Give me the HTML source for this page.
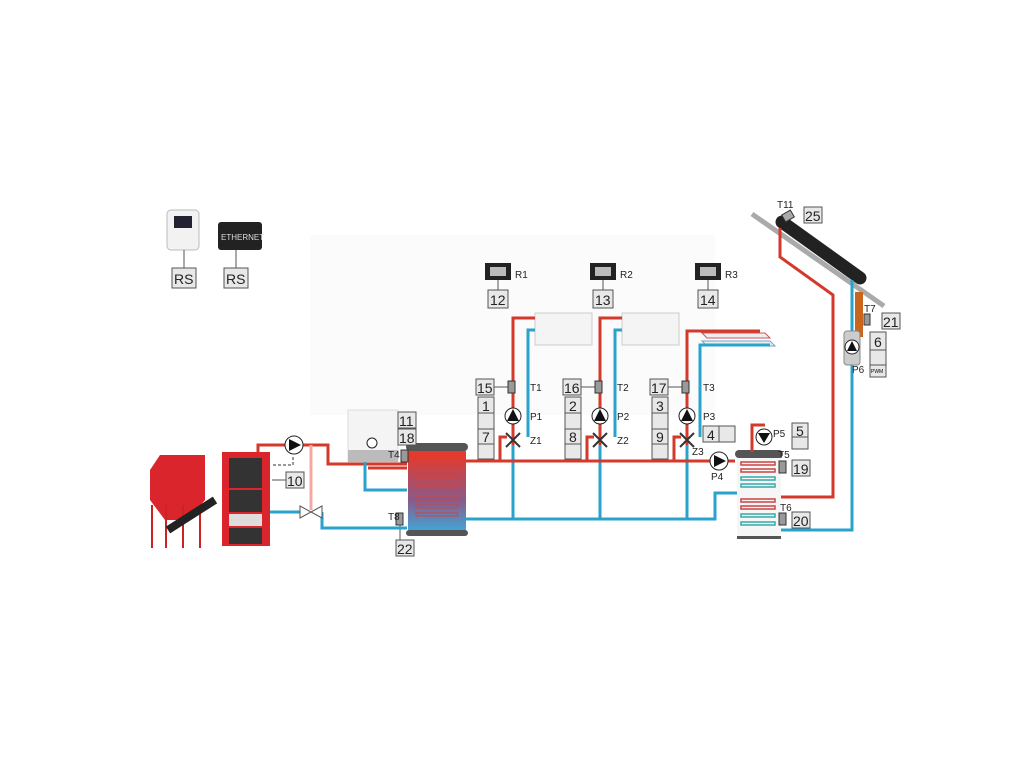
<!DOCTYPE html>
<html><head><meta charset="utf-8"><style>
html,body{margin:0;padding:0;background:#fff;}
svg{display:block;font-family:"Liberation Sans",sans-serif;}
.b{fill:#e8e8e8;stroke:#555;stroke-width:1;}
.t{font-size:14px;fill:#222;}
.s{font-size:10px;fill:#222;}
.r{stroke:#d33a2c;stroke-width:3;fill:none;}
.bl{stroke:#2aa3cc;stroke-width:3;fill:none;}
.k{stroke:#555;stroke-width:1;fill:none;}
</style></head><body>
<svg width="1024" height="768" viewBox="0 0 1024 768">
<rect x="310" y="235" width="405" height="180" fill="#fbfbfb"/>
<!-- controllers -->
<rect x="167" y="210" width="32" height="40" rx="4" fill="#f2f2f2" stroke="#bbb"/>
<rect x="174" y="216" width="18" height="12" fill="#223"/>
<line x1="184" y1="250" x2="184" y2="268" class="k"/>
<rect x="172" y="268" width="24" height="20" class="b"/><text x="174" y="284" class="t">RS</text>
<rect x="218" y="222" width="44" height="28" rx="3" fill="#222"/>
<text x="221" y="240" font-size="8" fill="#ddd">ETHERNET</text>
<line x1="236" y1="250" x2="236" y2="268" class="k"/>
<rect x="224" y="268" width="24" height="20" class="b"/><text x="226" y="284" class="t">RS</text>
<g>
<rect x="485" y="263" width="26" height="17" fill="#222"/><rect x="490" y="267" width="16" height="9" fill="#bbb"/>
<text x="515" y="278" class="s">R1</text><line x1="498" y1="280" x2="498" y2="290" class="k"/>
<rect x="488" y="290" width="20" height="18" class="b"/><text x="490" y="305" class="t">12</text>
<rect x="590" y="263" width="26" height="17" fill="#222"/><rect x="595" y="267" width="16" height="9" fill="#bbb"/>
<text x="620" y="278" class="s">R2</text><line x1="603" y1="280" x2="603" y2="290" class="k"/>
<rect x="593" y="290" width="20" height="18" class="b"/><text x="595" y="305" class="t">13</text>
<rect x="695" y="263" width="26" height="17" fill="#222"/><rect x="700" y="267" width="16" height="9" fill="#bbb"/>
<text x="725" y="278" class="s">R3</text><line x1="708" y1="280" x2="708" y2="290" class="k"/>
<rect x="698" y="290" width="20" height="18" class="b"/><text x="700" y="305" class="t">14</text>
</g>
<rect x="535" y="313" width="57" height="32" fill="#f4f4f4" stroke="#ccc"/>
<rect x="622" y="313" width="57" height="32" fill="#f4f4f4" stroke="#ccc"/>
<polygon points="702,333 765,333 770,338 707,338" fill="#eee" stroke="#c55"/>
<polygon points="702,341 770,341 775,346 707,346" fill="#eee" stroke="#6ac"/>
<path class="r" d="M513,460 V318 H535 M600,460 V318 H622 M687,460 V331 H760"/>
<path class="bl" d="M528,437 V330 H535 M615,437 V330 H622 M700,437 V345 H770"/>
<path class="bl" d="M513,445 V519 M600,445 V519 M687,445 V519"/>
<path class="r" d="M500,460 V437 H507 M587,460 V437 H594 M674,460 V437 H681"/>
<path class="r" d="M466,461 H735"/>
<path class="bl" d="M466,519 H715 V493 H740"/>
<g>
<rect x="476" y="379" width="18" height="16" class="b"/><text x="477" y="393" class="t">15</text>
<line x1="494" y1="387" x2="508" y2="387" class="k"/><rect x="508" y="381" width="7" height="12" fill="#999" stroke="#333"/><text x="530" y="391" class="s">T1</text>
<rect x="478" y="397" width="16" height="32" class="b"/><line x1="478" y1="413" x2="494" y2="413" class="k"/><text x="482" y="411" class="t">1</text>
<circle cx="513" cy="416" r="8" fill="#fff" stroke="#222"/><polygon points="507,421 513,409 519,421" fill="#111"/><text x="530" y="420" class="s">P1</text>
<rect x="478" y="429" width="16" height="30" class="b"/><line x1="478" y1="444" x2="494" y2="444" class="k"/><text x="482" y="442" class="t">7</text>
<path d="M506,433 L520,447 M506,447 L520,433" stroke="#333" stroke-width="2"/><text x="530" y="444" class="s">Z1</text>
<rect x="563" y="379" width="18" height="16" class="b"/><text x="564" y="393" class="t">16</text>
<line x1="581" y1="387" x2="595" y2="387" class="k"/><rect x="595" y="381" width="7" height="12" fill="#999" stroke="#333"/><text x="617" y="391" class="s">T2</text>
<rect x="565" y="397" width="16" height="32" class="b"/><line x1="565" y1="413" x2="581" y2="413" class="k"/><text x="569" y="411" class="t">2</text>
<circle cx="600" cy="416" r="8" fill="#fff" stroke="#222"/><polygon points="594,421 600,409 606,421" fill="#111"/><text x="617" y="420" class="s">P2</text>
<rect x="565" y="429" width="16" height="30" class="b"/><line x1="565" y1="444" x2="581" y2="444" class="k"/><text x="569" y="442" class="t">8</text>
<path d="M593,433 L607,447 M593,447 L607,433" stroke="#333" stroke-width="2"/><text x="617" y="444" class="s">Z2</text>
<rect x="650" y="379" width="18" height="16" class="b"/><text x="651" y="393" class="t">17</text>
<line x1="668" y1="387" x2="682" y2="387" class="k"/><rect x="682" y="381" width="7" height="12" fill="#999" stroke="#333"/><text x="703" y="391" class="s">T3</text>
<rect x="652" y="397" width="16" height="32" class="b"/><line x1="652" y1="413" x2="668" y2="413" class="k"/><text x="656" y="411" class="t">3</text>
<circle cx="687" cy="416" r="8" fill="#fff" stroke="#222"/><polygon points="681,421 687,409 693,421" fill="#111"/><text x="703" y="420" class="s">P3</text>
<rect x="652" y="429" width="16" height="30" class="b"/><line x1="652" y1="444" x2="668" y2="444" class="k"/><text x="656" y="442" class="t">9</text>
<path d="M680,433 L694,447 M680,447 L694,433" stroke="#333" stroke-width="2"/><text x="692" y="455" class="s">Z3</text>
<rect x="703" y="426" width="32" height="16" class="b"/><line x1="719" y1="426" x2="719" y2="442" class="k"/><text x="707" y="440" class="t">4</text>
<circle cx="719" cy="461" r="9" fill="#fff" stroke="#222"/><polygon points="714,455 726,461 714,467" fill="#111"/><text x="711" y="480" class="s">P4</text>
</g>
<defs><linearGradient id="tg" x1="0" y1="0" x2="0" y2="1"><stop offset="0.1" stop-color="#e33a2c"/><stop offset="0.6" stop-color="#8a5a8a"/><stop offset="1" stop-color="#36b0e0"/></linearGradient></defs>
<rect x="408" y="447" width="58" height="88" rx="6" fill="url(#tg)"/>
<rect x="406" y="443" width="62" height="8" rx="4" fill="#555"/>
<rect x="406" y="530" width="62" height="6" rx="3" fill="#555"/>
<g stroke="#c44" fill="none"><rect x="416" y="468" width="42" height="3"/><rect x="416" y="476" width="42" height="3"/><rect x="416" y="484" width="42" height="3"/><rect x="416" y="497" width="42" height="3"/><rect x="416" y="505" width="42" height="3"/><rect x="416" y="513" width="42" height="3"/></g>
<rect x="348" y="410" width="50" height="52" fill="#f4f4f4" stroke="#ddd"/>
<rect x="348" y="450" width="50" height="12" fill="#bbb"/>
<circle cx="372" cy="443" r="5" fill="#fff" stroke="#222"/>
<rect x="398" y="412" width="18" height="16" class="b"/><text x="399" y="426" class="t">11</text>
<rect x="398" y="429" width="18" height="16" class="b"/><text x="399" y="443" class="t">18</text>
<rect x="401" y="450" width="7" height="12" fill="#999" stroke="#333"/><text x="388" y="458" class="s">T4</text>
<rect x="396" y="513" width="7" height="12" fill="#999" stroke="#333"/><text x="388" y="520" class="s">T8</text>
<line x1="400" y1="525" x2="400" y2="540" class="k"/>
<rect x="396" y="540" width="18" height="16" class="b"/><text x="397" y="554" class="t">22</text>
<path class="r" d="M258,452 V445 H328 V464 H407"/>
<path class="r" d="M368,468 H407" stroke-width="2"/>
<path class="bl" d="M365,462 V490 H407"/>
<path d="M311,445 V510" stroke="#f3a9a2" stroke-width="3"/>
<path class="bl" d="M270,512 H300 M322,512 V528 H407"/>
<polygon points="300,506 311,512 300,518" fill="#fff" stroke="#555"/><polygon points="322,506 311,512 322,518" fill="#fff" stroke="#555"/>
<circle cx="294" cy="445" r="9" fill="#fff" stroke="#222"/><polygon points="289,439 301,445 289,451" fill="#111"/>
<path d="M273,465 H293 V455" stroke="#333" stroke-dasharray="3,2" fill="none"/>
<polygon points="150,470 160,455 205,455 205,500 188,520 165,520 150,500" fill="#d9252b"/>
<path d="M152,505 V548 M166,505 V548 M183,505 V548 M200,505 V548" stroke="#c22" stroke-width="2"/>
<line x1="168" y1="530" x2="215" y2="500" stroke="#222" stroke-width="8"/>
<rect x="222" y="452" width="48" height="94" fill="#d9252b"/>
<rect x="229" y="458" width="33" height="30" fill="#333"/><rect x="229" y="490" width="33" height="22" fill="#333"/>
<rect x="229" y="514" width="33" height="12" fill="#ddd"/><rect x="229" y="528" width="33" height="16" fill="#333"/>
<line x1="272" y1="480" x2="286" y2="480" class="k"/>
<rect x="286" y="472" width="18" height="16" class="b"/><text x="287" y="486" class="t">10</text>
<rect x="737" y="455" width="44" height="82" fill="#f6f6f6"/>
<rect x="735" y="450" width="48" height="8" rx="4" fill="#555"/>
<rect x="737" y="536" width="44" height="3" fill="#555"/>
<g fill="none" stroke-width="1.5"><g stroke="#c44"><rect x="741" y="462" width="34" height="3"/><rect x="741" y="469" width="34" height="3"/><rect x="741" y="499" width="34" height="3"/><rect x="741" y="506" width="34" height="3"/></g>
<g stroke="#3aa"><rect x="741" y="477" width="34" height="3"/><rect x="741" y="484" width="34" height="3"/><rect x="741" y="514" width="34" height="3"/><rect x="741" y="522" width="34" height="3"/></g></g>
<path class="r" d="M752,452 V425 H765" stroke-width="2"/>
<circle cx="764" cy="437" r="8" fill="#fff" stroke="#222"/><polygon points="758,433 770,433 764,443" fill="#111"/>
<text x="773" y="437" class="s">P5</text>
<rect x="792" y="423" width="16" height="26" class="b"/><line x1="792" y1="437" x2="808" y2="437" class="k"/><text x="796" y="436" class="t">5</text>
<rect x="779" y="461" width="7" height="12" fill="#999" stroke="#333"/><text x="778" y="458" class="s">T5</text>
<rect x="792" y="460" width="18" height="16" class="b"/><text x="793" y="474" class="t">19</text>
<rect x="779" y="513" width="7" height="12" fill="#999" stroke="#333"/><text x="780" y="511" class="s">T6</text>
<rect x="792" y="512" width="18" height="16" class="b"/><text x="793" y="526" class="t">20</text>
<line x1="752" y1="214" x2="884" y2="306" stroke="#aaa" stroke-width="5"/>
<line x1="782" y1="222" x2="860" y2="278" stroke="#222" stroke-width="13" stroke-linecap="round"/>
<rect x="783" y="212" width="10" height="8" fill="#aaa" stroke="#333" transform="rotate(-30 788 216)"/>
<text x="777" y="208" class="s">T11</text>
<rect x="804" y="207" width="18" height="16" class="b"/><text x="805" y="221" class="t">25</text>
<path class="r" d="M780,228 V257 L833,295 V497 H781"/>
<path class="bl" d="M852,280 V530 H781"/>
<rect x="855" y="292" width="8" height="45" fill="#c9651c"/>
<rect x="864" y="314" width="6" height="11" fill="#999" stroke="#333"/><text x="864" y="312" class="s">T7</text>
<rect x="882" y="313" width="18" height="16" class="b"/><text x="883" y="327" class="t">21</text>
<rect x="844" y="331" width="16" height="34" rx="3" fill="#ccc" stroke="#888"/>
<circle cx="852" cy="347" r="7" fill="#fff" stroke="#222"/><polygon points="847,351 852,341 857,351" fill="#111"/>
<text x="852" y="373" class="s">P6</text>
<rect x="870" y="332" width="16" height="45" class="b"/><line x1="870" y1="350" x2="886" y2="350" class="k"/><line x1="870" y1="365" x2="886" y2="365" class="k"/><text x="874" y="347" class="t">6</text>
<text x="871" y="373" font-size="5">PWM</text>
</svg>
</body></html>
